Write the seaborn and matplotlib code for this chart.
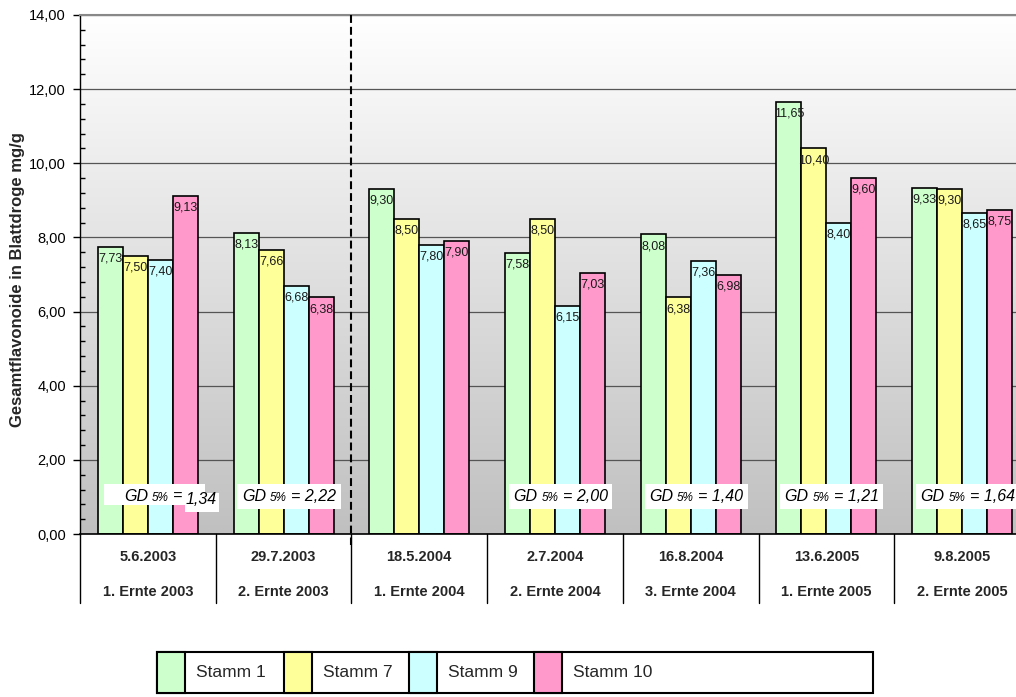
import numpy as np
import pandas as pd
import matplotlib
matplotlib.use("Agg")
import matplotlib.pyplot as plt
import matplotlib.transforms as mtransforms
import seaborn as sns
from matplotlib.patches import Rectangle
from matplotlib.colors import LinearSegmentedColormap
from matplotlib.ticker import MultipleLocator, FuncFormatter
from matplotlib.offsetbox import TextArea, HPacker, AnnotationBbox

# ---- data -----------------------------------------------------------------
dates = ["5.6.2003", "29.7.2003", "18.5.2004", "2.7.2004",
         "16.8.2004", "13.6.2005", "9.8.2005"]
harvests = ["1. Ernte 2003", "2. Ernte 2003", "1. Ernte 2004", "2. Ernte 2004",
            "3. Ernte 2004", "1. Ernte 2005", "2. Ernte 2005"]
strains = ["Stamm 1", "Stamm 7", "Stamm 9", "Stamm 10"]
stamm_1 = [7.73, 8.13, 9.30, 7.58, 8.08, 11.65, 9.33]
stamm_7 = [7.50, 7.66, 8.50, 8.50, 6.38, 10.40, 9.30]
stamm_9 = [7.40, 6.68, 7.80, 6.15, 7.36, 8.40, 8.65]
stamm_10 = [9.13, 6.38, 7.90, 7.03, 6.98, 9.60, 8.75]
gd_5 = ["1,34", "2,22", None, "2,00", "1,40", "1,21", "1,64"]
colors = ["#CCFFCC", "#FFFF99", "#CCFFFF", "#FF99CC"]

df = pd.DataFrame({
    "Datum": dates * 4,
    "Stamm": [s for s in strains for _ in dates],
    "Wert": stamm_1 + stamm_7 + stamm_9 + stamm_10,
})


def de(v):
    return f"{v:.2f}".replace(".", ",")


# ---- figure ---------------------------------------------------------------
sns.set_style("white")
plt.rcParams["font.family"] = ["Liberation Sans", "DejaVu Sans"]

W, H = 1016, 697
fig = plt.figure(figsize=(W / 100, H / 100), dpi=100)
ax_left, ax_right, ax_top, ax_bottom = 80, 1030, 15, 534
ax = fig.add_axes([ax_left / W, (H - ax_bottom) / H,
                   (ax_right - ax_left) / W, (ax_bottom - ax_top) / H])

# grey gradient behind the plot area
grad = LinearSegmentedColormap.from_list("bg", ["#ffffff", "#c0c0c0"])
ax.imshow(np.linspace(0, 1, 256).reshape(-1, 1), extent=(-0.5, 6.5, 0, 14),
          aspect="auto", cmap=grad, origin="upper", zorder=0.1)

sns.barplot(data=df, x="Datum", y="Wert", hue="Stamm", order=dates,
            hue_order=strains, palette=colors, width=0.737, saturation=1,
            edgecolor="black", linewidth=1.2, errorbar=None, legend=False,
            ax=ax, zorder=2)

ax.set_xlim(-0.5, 6.5)
ax.set_ylim(0, 14)
ax.set_axisbelow(True)

# value labels just under each bar top
for cont in ax.containers:
    texts = ax.bar_label(cont, labels=[de(v) for v in cont.datavalues],
                         padding=-4, fontsize=9, color="#1a1a1a")
    for t in texts:
        t.set_va("top")
        t.set_zorder(6)

# y axis
ax.set_yticks(np.arange(0, 14.1, 2))
ax.yaxis.set_minor_locator(MultipleLocator(0.4))
ax.yaxis.set_major_formatter(FuncFormatter(lambda v, p: de(v)))
ax.tick_params(axis="y", which="major", direction="out", length=5, width=1,
               pad=5, labelsize=10.5, color="black", labelcolor="black",
               left=True)
ax.tick_params(axis="y", which="minor", direction="in", length=3.5, width=1,
               color="black", left=True)
ax.yaxis.grid(True, which="major", color="#555555", lw=0.9)
ax.set_ylabel("Gesamtflavonoide in Blattdroge mg/g", fontsize=12,
              fontweight="bold")
ax.yaxis.set_label_coords(-0.058, 0.49)

# x axis: two-row category table below the plot
ax.tick_params(axis="x", length=0, labelbottom=False)
ax.set_xlabel("")
ax.spines["right"].set_visible(False)
ax.spines["top"].set_color("#888888")
ax.spines["top"].set_linewidth(1.5)
ax.spines["left"].set_color("black")
ax.spines["left"].set_linewidth(1)
ax.spines["bottom"].set_color("black")
ax.spines["bottom"].set_linewidth(1.2)

trans = mtransforms.blended_transform_factory(ax.transData, ax.transAxes)
table_depth = (603 - ax_bottom) / (ax_bottom - ax_top)
for xb in np.arange(-0.5, len(dates) - 1, 1.0):
    ax.plot([xb, xb], [0, -table_depth], transform=trans, color="black",
            lw=1, clip_on=False, zorder=5)
row1 = -(557 - ax_bottom) / (ax_bottom - ax_top)
row2 = -(591.5 - ax_bottom) / (ax_bottom - ax_top)
for i, (d, h) in enumerate(zip(dates, harvests)):
    ax.text(i, row1, d, transform=trans, ha="center", va="center",
            fontsize=10.5, fontweight="bold")
    ax.text(i, row2, h, transform=trans, ha="center", va="center",
            fontsize=10.5, fontweight="bold")

# dashed divider between 2003 and later years
ax.plot([1.5, 1.5], [1.0, -(545 - ax_bottom) / (ax_bottom - ax_top)],
        transform=trans, color="black", lw=1.5, ls=(0, (3.8, 1.9)),
        clip_on=False, zorder=7)


# ---- GD 5% annotations ----------------------------------------------------
def gd_text(parts, xy):
    sizes = {"GD": 11.5, "5%": 8.5}
    boxes = [TextArea(p, textprops=dict(fontsize=sizes.get(p, 11.5),
                                        style="italic", color="black"))
             for p in parts]
    pack = HPacker(children=boxes, align="baseline", pad=0, sep=3)
    ab = AnnotationBbox(pack, xy, xycoords="data", frameon=False,
                        box_alignment=(0.5, 0.5), zorder=8)
    ax.add_artist(ab)


for i, g in enumerate(gd_5):
    if g is None:
        continue
    if i == 0:
        ax.add_patch(Rectangle((i - 0.323, 0.78), 0.744, 0.57, fc="white",
                               ec="none", zorder=7))
        ax.add_patch(Rectangle((i + 0.274, 0.59), 0.25, 0.52, fc="white",
                               ec="none", zorder=7))
        gd_text(["GD", "5%", "="], (i + 0.04, 1.02))
        gd_text([g], (i + 0.395, 0.92))
    else:
        cx = i + 0.04
        ax.add_patch(Rectangle((cx - 0.38, 0.67), 0.76, 0.68, fc="white",
                               ec="none", zorder=7))
        gd_text(["GD", "5%", "= " + g], (cx, 1.02))

# ---- legend row -----------------------------------------------------------
lx0, lx1, ly0, ly1 = 157, 873, 652, 693
lax = fig.add_axes([lx0 / W, (H - ly1) / H, (lx1 - lx0) / W, (ly1 - ly0) / H])
lax.set_xlim(lx0, lx1)
lax.set_ylim(0, 1)
lax.axis("off")
lax.add_patch(Rectangle((lx0, 0), lx1 - lx0, 1, fc="white", ec="black",
                        lw=1.5, clip_on=False))
patch_left = [157, 284, 409, 534]
patch_w = 28
for px, col, name in zip(patch_left, colors, strains):
    lax.add_patch(Rectangle((px, 0), patch_w, 1, fc=col, ec="black", lw=1.5,
                            clip_on=False))
    lax.text(px + patch_w + 11, 0.5, name, ha="left", va="center",
             fontsize=12.5)

fig.savefig("out.png", dpi=100)
